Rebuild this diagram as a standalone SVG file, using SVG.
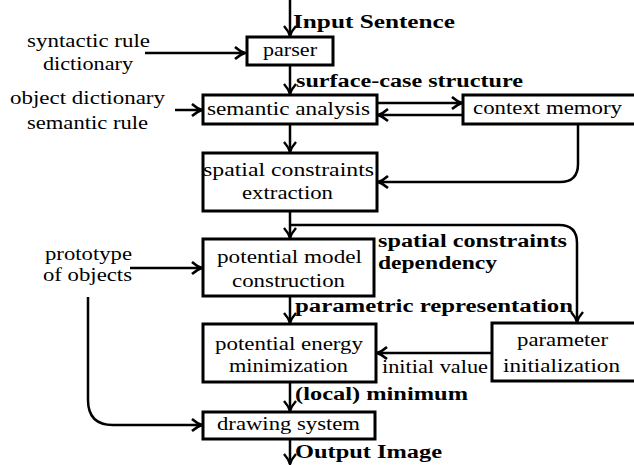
<svg xmlns="http://www.w3.org/2000/svg" width="634" height="465" viewBox="0 0 634 465">
<style>
.box{fill:#fff;stroke:#000;stroke-width:3}
.c{fill:none;stroke:#000;stroke-width:2.5}
.t{font-family:"Liberation Serif",serif;font-size:18px;fill:#000}
.b{font-family:"Liberation Serif",serif;font-size:18px;font-weight:bold;fill:#000}
</style>
<defs>
<marker id="ah" markerUnits="userSpaceOnUse" markerWidth="16" markerHeight="16" viewBox="-12 -8 14 16" refX="0" refY="0" orient="auto">
<path d="M-10,-6 Q-5,-1.5 0,0 Q-5,1.5 -10,6" fill="none" stroke="#000" stroke-width="2.5"/>
</marker>
</defs>
<rect width="634" height="465" fill="#fff"/>
<g id="connectors">
<path class="c" d="M290,0 V36" marker-end="url(#ah)"/>
<path class="c" d="M145,53 H245" marker-end="url(#ah)"/>
<path class="c" d="M290,65 V94" marker-end="url(#ah)"/>
<path class="c" d="M175,110 H202" marker-end="url(#ah)"/>
<path class="c" d="M377,103 H462" marker-end="url(#ah)"/>
<path class="c" d="M463,115 H378" marker-end="url(#ah)"/>
<path class="c" d="M290,124 V152" marker-end="url(#ah)"/>
<path class="c" d="M578,124 V164 Q578,182 560,182 H378" marker-end="url(#ah)"/>
<path class="c" d="M290,211 V238" marker-end="url(#ah)"/>
<path class="c" d="M290,225 H559 Q577,225 577,243 V322" marker-end="url(#ah)"/>
<path class="c" d="M130,268 H202" marker-end="url(#ah)"/>
<path class="c" d="M290,296 V323" marker-end="url(#ah)"/>
<path class="c" d="M492,353 H377" marker-end="url(#ah)"/>
<path class="c" d="M290,382 V411" marker-end="url(#ah)"/>
<path class="c" d="M88,297 V400 Q88,425 113,425 H202" marker-end="url(#ah)"/>
<path class="c" d="M290,439 V464" marker-end="url(#ah)"/>
</g>
<g id="labels">
<text class="b" x="293" y="28" textLength="162" lengthAdjust="spacingAndGlyphs">Input Sentence</text>
<text class="b" x="296" y="87" textLength="227" lengthAdjust="spacingAndGlyphs">surface-case structure</text>
<text class="b" x="378" y="247" textLength="189" lengthAdjust="spacingAndGlyphs">spatial constraints</text>
<text class="b" x="378" y="269" textLength="119" lengthAdjust="spacingAndGlyphs">dependency</text>
<text class="b" x="295" y="312" textLength="278" lengthAdjust="spacingAndGlyphs">parametric representation</text>
<text class="t" x="382" y="373" textLength="106" lengthAdjust="spacingAndGlyphs">initial value</text>
<text class="b" x="295" y="400" textLength="173" lengthAdjust="spacingAndGlyphs">(local) minimum</text>
<text class="b" x="295" y="458" textLength="147" lengthAdjust="spacingAndGlyphs">Output Image</text>
</g>
<g id="syntactic">
<text class="t" x="27" y="47" textLength="123" lengthAdjust="spacingAndGlyphs">syntactic rule</text>
<text class="t" x="43" y="70" textLength="90" lengthAdjust="spacingAndGlyphs">dictionary</text>
</g>
<g id="objdict">
<text class="t" x="10" y="104" textLength="155" lengthAdjust="spacingAndGlyphs">object dictionary</text>
<text class="t" x="27" y="129" textLength="121" lengthAdjust="spacingAndGlyphs">semantic rule</text>
</g>
<g id="prototype">
<text class="t" x="45" y="260" textLength="87" lengthAdjust="spacingAndGlyphs">prototype</text>
<text class="t" x="43" y="281" textLength="89" lengthAdjust="spacingAndGlyphs">of objects</text>
</g>
<g id="parser">
<rect class="box" x="247" y="37" width="86" height="28"/>
<text class="t" x="263" y="56" textLength="54" lengthAdjust="spacingAndGlyphs">parser</text>
</g>
<g id="semantic">
<rect class="box" x="203" y="95" width="174" height="29"/>
<text class="t" x="207" y="115" textLength="163" lengthAdjust="spacingAndGlyphs">semantic analysis</text>
</g>
<g id="context">
<rect class="box" x="463" y="95" width="180" height="29"/>
<text class="t" x="473" y="114" textLength="149" lengthAdjust="spacingAndGlyphs">context memory</text>
</g>
<g id="spatial">
<rect class="box" x="203" y="153" width="174" height="58"/>
<text class="t" x="203" y="176" textLength="171" lengthAdjust="spacingAndGlyphs">spatial constraints</text>
<text class="t" x="242" y="199" textLength="91" lengthAdjust="spacingAndGlyphs">extraction</text>
</g>
<g id="potential-model">
<rect class="box" x="203" y="239" width="171" height="57"/>
<text class="t" x="217" y="263" textLength="145" lengthAdjust="spacingAndGlyphs">potential model</text>
<text class="t" x="232" y="287" textLength="113" lengthAdjust="spacingAndGlyphs">construction</text>
</g>
<g id="potential-energy">
<rect class="box" x="203" y="324" width="173" height="58"/>
<text class="t" x="215" y="350" textLength="148" lengthAdjust="spacingAndGlyphs">potential energy</text>
<text class="t" x="229" y="372" textLength="119" lengthAdjust="spacingAndGlyphs">minimization</text>
</g>
<g id="param-init">
<rect class="box" x="492" y="323" width="150" height="58"/>
<text class="t" x="517" y="346" textLength="91" lengthAdjust="spacingAndGlyphs">parameter</text>
<text class="t" x="503" y="372" textLength="117" lengthAdjust="spacingAndGlyphs">initialization</text>
</g>
<g id="drawing">
<rect class="box" x="203" y="412" width="172" height="27"/>
<text class="t" x="217" y="430" textLength="143" lengthAdjust="spacingAndGlyphs">drawing system</text>
</g>
</svg>
